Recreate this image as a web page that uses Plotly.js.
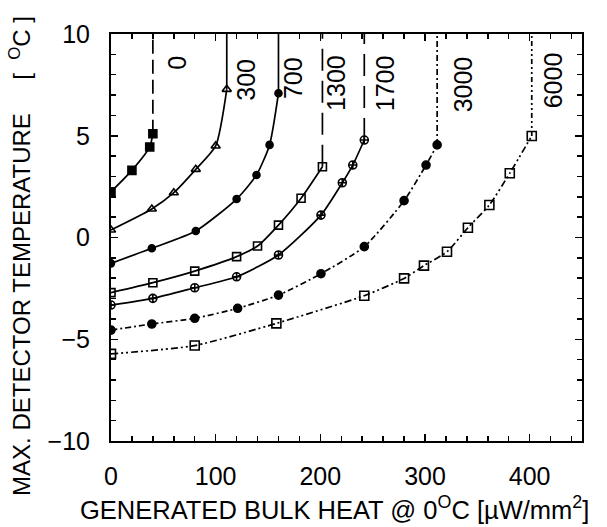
<!DOCTYPE html>
<html>
<head>
<meta charset="utf-8">
<script src="https://cdn.plot.ly/plotly-3.0.1.min.js"></script>
<style>html,body{margin:0;padding:0;background:#fff;}#chart{width:607px;height:527px;}</style>
</head>
<body>
<div id="chart"></div>
<script>
// Series names (curve labels)
const seriesNames = ['0', '300', '700', '1300', '1700', '3000', '6000'];

// Generated bulk heat (µW/mm²) and max detector temperature (°C)
const x0 = [0, 20, 37, 40];
const y0 = [2.25, 3.3, 4.45, 5.1];

const x300 = [0, 39, 60, 81, 100, 110.6];
const y300 = [0.37, 1.4, 2.2, 3.35, 4.5, 7.28];

const x700 = [0, 39, 81, 120, 139, 151.5, 160];
const y700 = [-1.27, -0.53, 0.32, 1.89, 3.07, 4.55, 7.09];

const x1300 = [0, 40, 80, 120, 140, 160, 181.6, 202];
const y1300 = [-2.71, -2.22, -1.65, -0.94, -0.42, 0.61, 1.93, 3.48];

const x1700 = [0, 40, 80, 120, 160, 200.6, 221, 231, 242];
const y1700 = [-3.32, -2.99, -2.47, -1.93, -0.86, 1.1, 2.69, 3.56, 4.79];

const x3000 = [0, 39, 80, 121, 160, 200.6, 242, 280, 301, 311.6];
const y3000 = [-4.55, -4.25, -3.97, -3.48, -2.83, -1.78, -0.45, 1.81, 3.56, 4.55];

const x6000 = [0, 80, 158, 242, 280, 299, 321, 341, 361.5, 381, 402];
const y6000 = [-5.72, -5.31, -4.22, -2.86, -2.01, -1.38, -0.7, 0.48, 1.6, 3.16, 4.99];

// Axis tick labels and titles
const xTickVals = [0, 100, 200, 300, 400];
const yTickVals = [-10, -5, 0, 5, 10];
const xTitle = 'GENERATED BULK HEAT @ 0<sup>O</sup>C [µW/mm<sup>2</sup>]';
const yTitle = 'MAX. DETECTOR TEMPERATURE&nbsp;&nbsp;&nbsp;&nbsp;&nbsp;[&nbsp;&nbsp;<sup>O</sup>C&nbsp;]';

// ---- styling (not data) ----
const yTop = 10;
const xsAll = [x0, x300, x700, x1300, x1700, x3000, x6000];
const ysAll = [y0, y300, y700, y1300, y1700, y3000, y6000];
const markerSym = ['square', 'triangle-up-open', 'circle', 'square-open', 'circle-cross-open', 'circle', 'square-open'];
const markerSize = [8, 8, 7, 8, 8, 8, 9];
const curveDash = ['solid', 'solid', 'solid', 'solid', 'solid', '6px,3px,2px,3px', '7px,3px,2px,3px,2px,3px'];
const vertDash = ['14px,6px', 'solid', 'solid', '22px,10px', '22px,10px', '6px,3px,2px,3px', '5px,3px,2px,3px,2px,3px'];
const labelPos = [[62.8, 8.57], [128.7, 7.74], [173.2, 7.85], [215.6, 7.58], [261.8, 7.58], [336.6, 7.54], [422.6, 7.74]];

const FONT = 'Liberation Sans, Arial, sans-serif';
const traces = [];
const annotations = [];
for (let i = 0; i < seriesNames.length; i++) {
  const xs = xsAll[i], ys = ysAll[i];
  traces.push({
    x: xs, y: ys, type: 'scatter', mode: 'lines+markers', name: seriesNames[i],
    line: {color: '#000', width: 1.7, dash: curveDash[i], shape: 'spline', smoothing: 0.6},
    marker: {symbol: markerSym[i], size: markerSize[i], color: '#000', line: {color: '#000', width: 1.6}},
    showlegend: false, hoverinfo: 'x+y'
  });
  const xl = xs[xs.length - 1], yl = ys[ys.length - 1];
  traces.push({
    x: [xl, xl], y: [yl, yTop], type: 'scatter', mode: 'lines',
    line: {color: '#000', width: 1.7, dash: vertDash[i]},
    showlegend: false, hoverinfo: 'skip'
  });
  annotations.push({
    x: labelPos[i][0], y: labelPos[i][1], xref: 'x', yref: 'y',
    text: seriesNames[i], showarrow: false, textangle: -90,
    font: {family: FONT, size: 25, color: '#000'}
  });
}
// axis titles placed as annotations (offset from plot centre as in the reference)
annotations.push({
  x: 0.4735, y: -0.1646, xref: 'paper', yref: 'paper', xanchor: 'center', yanchor: 'middle',
  text: xTitle, showarrow: false, font: {family: FONT, size: 25.5, color: '#000'}
});
annotations.push({
  x: -0.193, y: 0.455, xref: 'paper', yref: 'paper', xanchor: 'center', yanchor: 'middle',
  text: yTitle, showarrow: false, textangle: -90, font: {family: FONT, size: 24, color: '#000'}
});

const axisCommon = {
  showline: true, linecolor: '#000', linewidth: 2, mirror: 'allticks',
  ticks: 'inside', ticklen: 7, tickwidth: 1.5, tickcolor: '#000',
  showgrid: false, zeroline: false,
  tickfont: {family: FONT, size: 25, color: '#000'}
};

const layout = {
  width: 607, height: 527,
  margin: {l: 111, r: 25, t: 34, b: 86},
  paper_bgcolor: '#fff', plot_bgcolor: '#fff',
  xaxis: Object.assign({}, axisCommon, {
    range: [0, 450], tickvals: xTickVals, ticklabelstandoff: 12,
    minor: {dtick: 20, tick0: 0, ticks: 'inside', ticklen: 5, tickwidth: 1.5, tickcolor: '#000'}
  }),
  yaxis: Object.assign({}, axisCommon, {
    range: [-10, 10], tickvals: yTickVals, ticklabelstandoff: 14,
    minor: {dtick: 1, tick0: 0, ticks: 'inside', ticklen: 5, tickwidth: 1.5, tickcolor: '#000'}
  }),
  annotations: annotations
};

Plotly.newPlot('chart', traces, layout, {displayModeBar: false, staticPlot: true});
</script>
</body>
</html>
